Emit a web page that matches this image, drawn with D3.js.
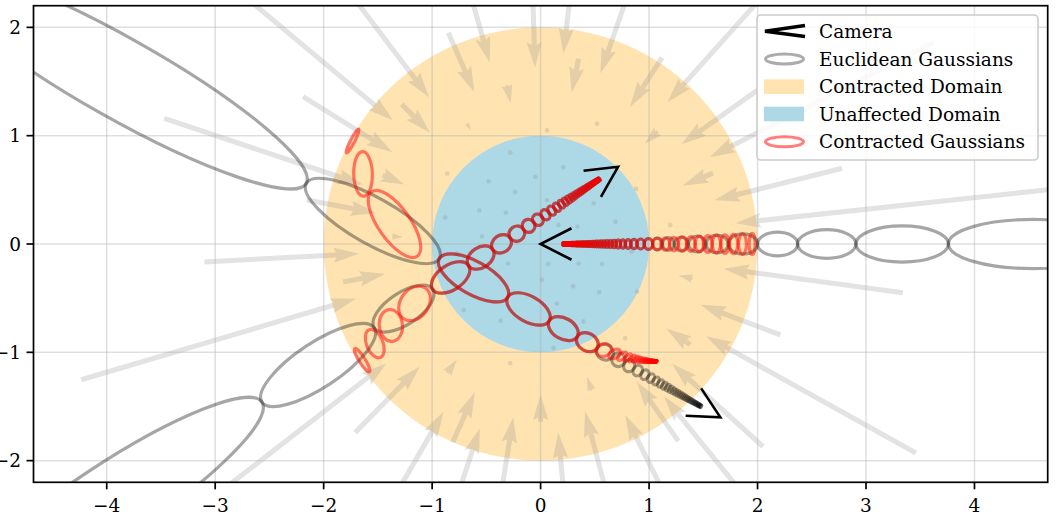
<!DOCTYPE html>
<html><head><meta charset="utf-8">
<script src="https://cdn.jsdelivr.net/npm/d3@7"></script>
<style>
body{margin:0;background:#fff}
svg{display:block}
text{font-family:"DejaVu Serif",serif;fill:#000}
</style>
</head><body>
<svg id="chart" width="1059" height="526"></svg>
<script>
// ---------- data ----------
const xTicks = [-4, -3, -2, -1, 0, 1, 2, 3, 4];
const yTicks = [-2, -1, 0, 1, 2];

// cameras: position, viewing direction (deg), sampling along the ray (uniform in disparity)
const cameraX = [0.0, 0.714, 1.657];
const cameraY = [0.0, 0.713, -1.60];
const cameraAngleDeg = [0, 213.5, 150.5];
const firstEdgeDisparity = [4.946, 4.934, 4.98];
const disparityStep = [0.078, 0.117, 0.108];
const coneRadius = [0.05, 0.062, 0.058];

// quiver tails (points whose contraction is shown)
const quiverX = [-3.40,-2.01,-2.19,-1.28,-0.85,-1.04,-0.31,-0.085,0.515,0.35,1.0,1.12,2.72,2.0,-0.68,3.62,1.59,2.78,5.23,3.34,1.40,2.21,1.38,3.46,2.05,1.27,1.85,3.33,0.47,0.64,0.0,0.37,-0.41,-1.49,-0.81,-2.38,-0.86,-1.71,-3.95,-1.455,-2.155,-1.37,-3.10,-1.82,-4.235,-3.47,1.08,
  -0.28,0.21,-0.86,-0.48,-0.05,-0.235,0.88,0.06,0.49,-0.565,-0.32,-0.88,0.69,0.34,-0.54,-0.30,0.07,0.565,0.01,0.30,0.54,-0.71,-0.37,0.15,0.395,0.89,0.12,0.78,0.52,0.06,1.195,0.84,0.165,0.35,-0.77,-0.28,-0.66];
const quiverY = [2.85,2.65,1.36,1.29,1.95,3.71,1.465,2.70,4.32,1.71,2.86,1.72,3.04,1.42,1.11,1.86,0.655,0.70,0.56,-0.45,-0.32,-0.84,-0.93,-1.93,-1.87,-1.82,-3.74,-4.12,-1.35,-2.42,-1.64,-3.98,-2.60,-4.52,-1.83,-4.12,-1.19,-1.74,-3.06,0.636,0.406,0.07,-0.166,-0.35,-1.253,1.16,1.04,
  0.845,0.71,0.65,0.58,0.62,0.48,0.51,0.405,0.375,0.31,0.29,0.245,0.205,0.16,0.07,-0.18,-0.185,-0.185,-0.33,-0.39,-0.445,-0.61,-0.71,-0.55,-0.715,-0.44,-0.96,-0.87,1.11,1.05,0.175,-0.07,0.175,-0.18,-0.09,-1.10,-0.21];

const legendLabels = ["Camera", "Euclidean Gaussians", "Contracted Domain", "Unaffected Domain", "Contracted Gaussians"];

// ---------- layout ----------
const L = 33.5, R = 1047.7, T = 5.7, B = 482.3;
const x = d3.scaleLinear().domain([-4.675, 4.675]).range([L, R]);
const y = d3.scaleLinear().domain([-2.2, 2.2]).range([B, T]);
const kx = (R - L) / 9.35, ky = (B - T) / 4.4;

const svg = d3.select("#chart");
svg.append("defs").append("clipPath").attr("id", "clip")
  .append("rect").attr("x", L).attr("y", T).attr("width", R - L).attr("height", B - T);
const plot = svg.append("g").attr("clip-path", "url(#clip)");

// contraction
function contract(p) {
  const r = Math.hypot(p[0], p[1]);
  if (r <= 1) return [p[0], p[1]];
  const s = (2 - 1 / r) / r;
  return [p[0] * s, p[1] * s];
}

// domains
plot.append("ellipse").attr("cx", x(0)).attr("cy", y(0)).attr("rx", 2 * kx).attr("ry", 2 * ky)
  .attr("fill", "orange").attr("fill-opacity", 0.3);
plot.append("ellipse").attr("cx", x(0)).attr("cy", y(0)).attr("rx", 1 * kx).attr("ry", 1 * ky)
  .attr("fill", "lightblue");

// quiver
const qw = 0.005 * (R - L), HL = 5 * qw, HAL = 4.5 * qw, HWh = 1.5 * qw, hw = qw / 2;
const qg = plot.append("g");
quiverX.forEach((qx, i) => {
  const P = [qx, quiverY[i]];
  const C = contract(P);
  const p0 = [x(P[0]), y(P[1])], p1 = [x(C[0]), y(C[1])];
  const len = Math.hypot(p1[0] - p0[0], p1[1] - p0[1]);
  let pts;
  if (len < qw) {
    pts = d3.range(6).map(k => {
      const a = k * Math.PI / 3;
      return [p0[0] + hw * Math.cos(a), p0[1] + hw * Math.sin(a)];
    });
  } else {
    const u = [(p1[0] - p0[0]) / len, (p1[1] - p0[1]) / len], n = [-u[1], u[0]];
    let loc;
    if (len >= HL) {
      loc = [[0, -hw], [len - HAL, -hw], [len - HL, -HWh], [len, 0], [len - HL, HWh], [len - HAL, hw], [0, hw]];
    } else {
      const s = len / HL;
      loc = [[0, -hw], [HL - HAL, -hw], [0, -HWh], [HL, 0], [0, HWh], [HL - HAL, hw], [0, hw]]
        .map(q => [q[0] * s, q[1] * s]);
    }
    pts = loc.map(q => [p0[0] + q[0] * u[0] + q[1] * n[0], p0[1] + q[0] * u[1] + q[1] * n[1]]);
  }
  qg.append("polygon").attr("points", pts.map(q => q.join(",")).join(" "))
    .attr("fill", "#808080").attr("fill-opacity", 0.22);
});

// grid
const gg = plot.append("g").attr("stroke", "#b0b0b0").attr("stroke-opacity", 0.4).attr("stroke-width", 1.5);
xTicks.forEach(t => gg.append("line").attr("x1", x(t)).attr("x2", x(t)).attr("y1", T).attr("y2", B));
yTicks.forEach(t => gg.append("line").attr("y1", y(t)).attr("y2", y(t)).attr("x1", L).attr("x2", R));

// gaussians
function screenEllipse(mu, M) {
  const a = kx * kx * M[0][0], b = -kx * ky * M[0][1], c = ky * ky * M[1][1];
  const m = (a + c) / 2, d = Math.sqrt(((a - c) / 2) ** 2 + b * b);
  const l1 = m + d, l2 = Math.max(m - d, 0);
  const ang = 0.5 * Math.atan2(2 * b, a - c) * 180 / Math.PI;
  return { cx: x(mu[0]), cy: y(mu[1]), rx: Math.sqrt(l1), ry: Math.sqrt(l2), ang };
}
const euclid = [], contracted = [];
cameraX.forEach((cx0, i) => {
  const o = [cx0, cameraY[i]];
  const a = cameraAngleDeg[i] * Math.PI / 180;
  const dv = [Math.cos(a), Math.sin(a)], nv = [-Math.sin(a), Math.cos(a)];
  for (let k = 0; ; k++) {
    const d0 = firstEdgeDisparity[i] - k * disparityStep[i];
    const d1 = d0 - disparityStep[i];
    if (d1 <= 1e-9) break;
    const t0 = 1 / d0, t1 = 1 / d1, tm = (t0 + t1) / 2;
    const along = (t1 - t0) / 2, perp = coneRadius[i] * tm;
    const mu = [o[0] + tm * dv[0], o[1] + tm * dv[1]];
    const M = [
      [along * along * dv[0] * dv[0] + perp * perp * nv[0] * nv[0], along * along * dv[0] * dv[1] + perp * perp * nv[0] * nv[1]],
      [0, along * along * dv[1] * dv[1] + perp * perp * nv[1] * nv[1]]
    ];
    M[1][0] = M[0][1];
    euclid.push(screenEllipse(mu, M));
    const r = Math.hypot(mu[0], mu[1]);
    if (r <= 1) {
      contracted.push(screenEllipse(mu, M));
    } else {
      const u = [mu[0] / r, mu[1] / r];
      const al = (2 * r - 1) / (r * r), be = 1 / (r * r);
      const J = [[al + (be - al) * u[0] * u[0], (be - al) * u[0] * u[1]],
                 [(be - al) * u[0] * u[1], al + (be - al) * u[1] * u[1]]];
      const JM = [[J[0][0] * M[0][0] + J[0][1] * M[1][0], J[0][0] * M[0][1] + J[0][1] * M[1][1]],
                  [J[1][0] * M[0][0] + J[1][1] * M[1][0], J[1][0] * M[0][1] + J[1][1] * M[1][1]]];
      const Mc = [[JM[0][0] * J[0][0] + JM[0][1] * J[0][1], JM[0][0] * J[1][0] + JM[0][1] * J[1][1]],
                  [JM[1][0] * J[0][0] + JM[1][1] * J[0][1], JM[1][0] * J[1][0] + JM[1][1] * J[1][1]]];
      contracted.push(screenEllipse(contract(mu), Mc));
    }
  }
});
function drawEllipses(list, color, op) {
  const g = plot.append("g");
  list.forEach(e => g.append("ellipse")
    .attr("transform", `translate(${e.cx},${e.cy}) rotate(${e.ang})`)
    .attr("rx", e.rx).attr("ry", e.ry)
    .attr("fill", "none").attr("stroke", color).attr("stroke-opacity", op).attr("stroke-width", 3.2));
}
drawEllipses(euclid, "#000", 0.35);
drawEllipses(contracted, "red", 0.5);

// cameras
const armLen = 0.32, half = 27 * Math.PI / 180;
cameraX.forEach((cx0, i) => {
  const a = cameraAngleDeg[i] * Math.PI / 180;
  const p1 = [cx0 + armLen * Math.cos(a + half), cameraY[i] + armLen * Math.sin(a + half)];
  const p2 = [cx0 + armLen * Math.cos(a - half), cameraY[i] + armLen * Math.sin(a - half)];
  plot.append("path")
    .attr("d", `M${x(p1[0])},${y(p1[1])}L${x(cx0)},${y(cameraY[i])}L${x(p2[0])},${y(p2[1])}`)
    .attr("fill", "none").attr("stroke", "#000").attr("stroke-width", 2.6);
});

// axes
const ax = svg.append("g");
ax.append("rect").attr("x", L).attr("y", T).attr("width", R - L).attr("height", B - T)
  .attr("fill", "none").attr("stroke", "#000").attr("stroke-width", 1.7);
const fmt = v => (v < 0 ? "\u2212" + Math.abs(v) : String(v));
xTicks.forEach(t => {
  ax.append("line").attr("x1", x(t)).attr("x2", x(t)).attr("y1", B).attr("y2", B + 7)
    .attr("stroke", "#000").attr("stroke-width", 1.7);
  ax.append("text").attr("x", x(t)).attr("y", 511.5).attr("text-anchor", "middle")
    .attr("font-size", 18.5).text(fmt(t));
});
yTicks.forEach(t => {
  ax.append("line").attr("x1", L - 7).attr("x2", L).attr("y1", y(t)).attr("y2", y(t))
    .attr("stroke", "#000").attr("stroke-width", 1.7);
  ax.append("text").attr("x", 21).attr("y", y(t) + 6.7).attr("text-anchor", "end")
    .attr("font-size", 18.5).text(fmt(t));
});

// legend
const lg = svg.append("g");
lg.append("rect").attr("x", 757).attr("y", 15).attr("width", 281).attr("height", 145).attr("rx", 4)
  .attr("fill", "#fff").attr("fill-opacity", 0.8).attr("stroke", "#cccccc").attr("stroke-width", 1.6);
const rowY = [31.2, 59, 86.7, 114, 141.8];
lg.append("path").attr("d", `M805,25.5L765,${rowY[0]}L805,36.5`)
  .attr("fill", "none").attr("stroke", "#000").attr("stroke-width", 3.5);
lg.append("ellipse").attr("cx", 784.5).attr("cy", rowY[1]).attr("rx", 19).attr("ry", 5)
  .attr("fill", "none").attr("stroke", "#000").attr("stroke-opacity", 0.33).attr("stroke-width", 3);
lg.append("rect").attr("x", 764).attr("y", rowY[2] - 7.3).attr("width", 40).attr("height", 14.6)
  .attr("fill", "orange").attr("fill-opacity", 0.3);
lg.append("rect").attr("x", 764).attr("y", rowY[3] - 7.3).attr("width", 40).attr("height", 14.6)
  .attr("fill", "lightblue");
lg.append("ellipse").attr("cx", 784.5).attr("cy", rowY[4]).attr("rx", 19).attr("ry", 5)
  .attr("fill", "none").attr("stroke", "red").attr("stroke-opacity", 0.5).attr("stroke-width", 3);
legendLabels.forEach((s, i) => lg.append("text").attr("x", 819).attr("y", rowY[i] + 6.5)
  .attr("font-size", 18.5).text(s));
</script>
</body></html>
